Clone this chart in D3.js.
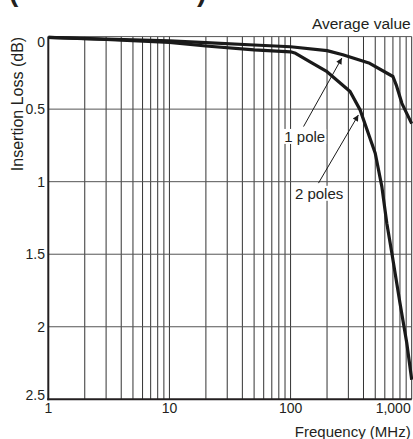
<!DOCTYPE html>
<html>
<head>
<meta charset="utf-8">
<script src="https://cdn.jsdelivr.net/npm/d3@7"></script>
<style>
  html, body { margin: 0; padding: 0; background: #fff; }
  svg { display: block; }
  text { font-family: "Liberation Sans", Arial, Helvetica, sans-serif; fill: #231f20; }
</style>
</head>
<body>
<script>
// ---------- data ----------
const xTickValues = [1, 10, 100, 1000];
const xTickLabels = ["1", "10", "100", "1,000"];
const yTickValues = [0, 0.5, 1, 1.5, 2, 2.5];
const yTickLabels = ["0", "0.5", "1", "1.5", "2", "2.5"];

const freq1Pole = [1, 3, 10, 20, 50, 100, 200, 270, 450, 700, 750, 830, 1000];
const loss1Pole = [0.005, 0.018, 0.03, 0.042, 0.058, 0.07, 0.097, 0.125, 0.184, 0.275, 0.34, 0.46, 0.6];

const freq2Poles = [1, 3, 10, 20, 50, 100, 110, 145, 200, 310, 375, 500, 567, 623, 685, 800, 910, 1000];
const loss2Poles = [0.005, 0.02, 0.04, 0.065, 0.092, 0.105, 0.115, 0.175, 0.242, 0.379, 0.505, 0.804, 1.034, 1.286, 1.49, 1.837, 2.11, 2.365];

const annotationTexts = ["1 pole", "2 poles"];
const annotationTextFreq = [131, 172];
const annotationTextLoss = [0.726, 1.118];
const annotationTailFreq = [128, 170];
const annotationTailLoss = [0.62, 1.01];
const annotationTipFreq = [265, 363];
const annotationTipLoss = [0.148, 0.54];

const xTitle = "Frequency (MHz)";
const yTitle = "Insertion Loss (dB)";
const noteText = "Average value";

// ---------- layout ----------
const W = 413, H = 439;
const mLeft = 48.3, mRight = 411.7, mTop = 36.6, mBottom = 399.3;

const svg = d3.select("body").append("svg").attr("width", W).attr("height", H);

const x = d3.scaleLog().domain([1, 1000]).range([mLeft, mRight]);
const y = d3.scaleLinear().domain([0, 2.5]).range([mTop, mBottom]);

// cropped title parentheses at the very top (cut off in the reference too)
svg.append("text").attr("x", 9).attr("y", 1).attr("font-size", 28).attr("font-weight", "bold").text("(");
svg.append("text").attr("x", 197).attr("y", 1).attr("font-size", 28).attr("font-weight", "bold").text(")");

// grid
const grid = svg.append("g");
const vTicks = x.ticks().filter(v => v > 1 && v <= 1000);
grid.selectAll("line.v").data(vTicks).enter().append("line")
  .attr("x1", d => x(d)).attr("x2", d => x(d))
  .attr("y1", mTop).attr("y2", mBottom)
  .attr("stroke", "#333").attr("stroke-width", 1);
grid.selectAll("line.h").data(yTickValues.filter(v => v > 0 && v < 2.5)).enter().append("line")
  .attr("x1", mLeft).attr("x2", mRight)
  .attr("y1", d => y(d)).attr("y2", d => y(d))
  .attr("stroke", "#555").attr("stroke-width", 1);
grid.append("line").attr("x1", mLeft).attr("x2", mRight).attr("y1", y(0)).attr("y2", y(0))
  .attr("stroke", "#555").attr("stroke-width", 1);

// axis lines
svg.append("line").attr("x1", mLeft).attr("x2", mLeft).attr("y1", mTop).attr("y2", mBottom + 1)
  .attr("stroke", "#231f20").attr("stroke-width", 2);
svg.append("line").attr("x1", mLeft - 1).attr("x2", mRight).attr("y1", mBottom).attr("y2", mBottom)
  .attr("stroke", "#231f20").attr("stroke-width", 2);

// tick labels
svg.selectAll("text.xt").data(xTickValues).enter().append("text")
  .attr("x", (d, i) => i === xTickValues.length - 1 ? mRight - 1 : x(d))
  .attr("y", 413)
  .attr("text-anchor", (d, i) => i === xTickValues.length - 1 ? "end" : "middle")
  .attr("font-size", 14)
  .text((d, i) => xTickLabels[i]);

svg.selectAll("text.yt").data(yTickValues).enter().append("text")
  .attr("x", 45)
  .attr("y", d => y(d))
  .attr("dy", (d, i) => i === 0 ? "0.72em" : (i === yTickValues.length - 1 ? "0.05em" : "0.36em"))
  .attr("text-anchor", "end")
  .attr("font-size", 14)
  .text((d, i) => yTickLabels[i]);

// titles
svg.append("text").attr("x", mRight - 1).attr("y", 437).attr("text-anchor", "end")
  .attr("font-size", 15).text(xTitle);
svg.append("text").attr("transform", "translate(23,104) rotate(-90)").attr("text-anchor", "middle")
  .attr("font-size", 16).text(yTitle);
svg.append("text").attr("x", mRight - 1).attr("y", 29).attr("text-anchor", "end")
  .attr("font-size", 15.5).text(noteText);

// curves
const defs = svg.append("defs");
defs.append("clipPath").attr("id", "clip")
  .append("rect").attr("x", mLeft).attr("y", mTop - 3).attr("width", mRight - mLeft + 2).attr("height", mBottom - mTop + 3);
const line = d3.line().x(d => x(d[0])).y(d => y(d[1]));
const series = [
  d3.zip(freq1Pole, loss1Pole),
  d3.zip(freq2Poles, loss2Poles)
];
svg.append("g").attr("clip-path", "url(#clip)")
  .selectAll("path").data(series).enter().append("path")
  .attr("d", line)
  .attr("fill", "none")
  .attr("stroke", "#1a1a1a")
  .attr("stroke-width", 3.2)
  .attr("stroke-linejoin", "round");

// annotations
defs.append("marker")
  .attr("id", "arrow").attr("viewBox", "0 0 10 10").attr("refX", 10).attr("refY", 5)
  .attr("markerWidth", 8).attr("markerHeight", 6).attr("markerUnits", "userSpaceOnUse")
  .attr("orient", "auto")
  .append("path").attr("d", "M0,0 L10,5 L0,10 z").attr("fill", "#1a1a1a");

annotationTexts.forEach((t, i) => {
  svg.append("line")
    .attr("x1", x(annotationTailFreq[i])).attr("y1", y(annotationTailLoss[i]))
    .attr("x2", x(annotationTipFreq[i])).attr("y2", y(annotationTipLoss[i]))
    .attr("stroke", "#1a1a1a").attr("stroke-width", 1)
    .attr("marker-end", "url(#arrow)");
  const tx = svg.append("text")
    .attr("x", x(annotationTextFreq[i])).attr("y", y(annotationTextLoss[i]))
    .attr("text-anchor", "middle").attr("font-size", 15).text(t);
  const bb = tx.node().getBBox();
  svg.insert("rect", () => tx.node())
    .attr("x", bb.x - 1).attr("y", bb.y + 1).attr("width", bb.width + 2).attr("height", bb.height - 2)
    .attr("fill", "#fff");
});
</script>
</body>
</html>
